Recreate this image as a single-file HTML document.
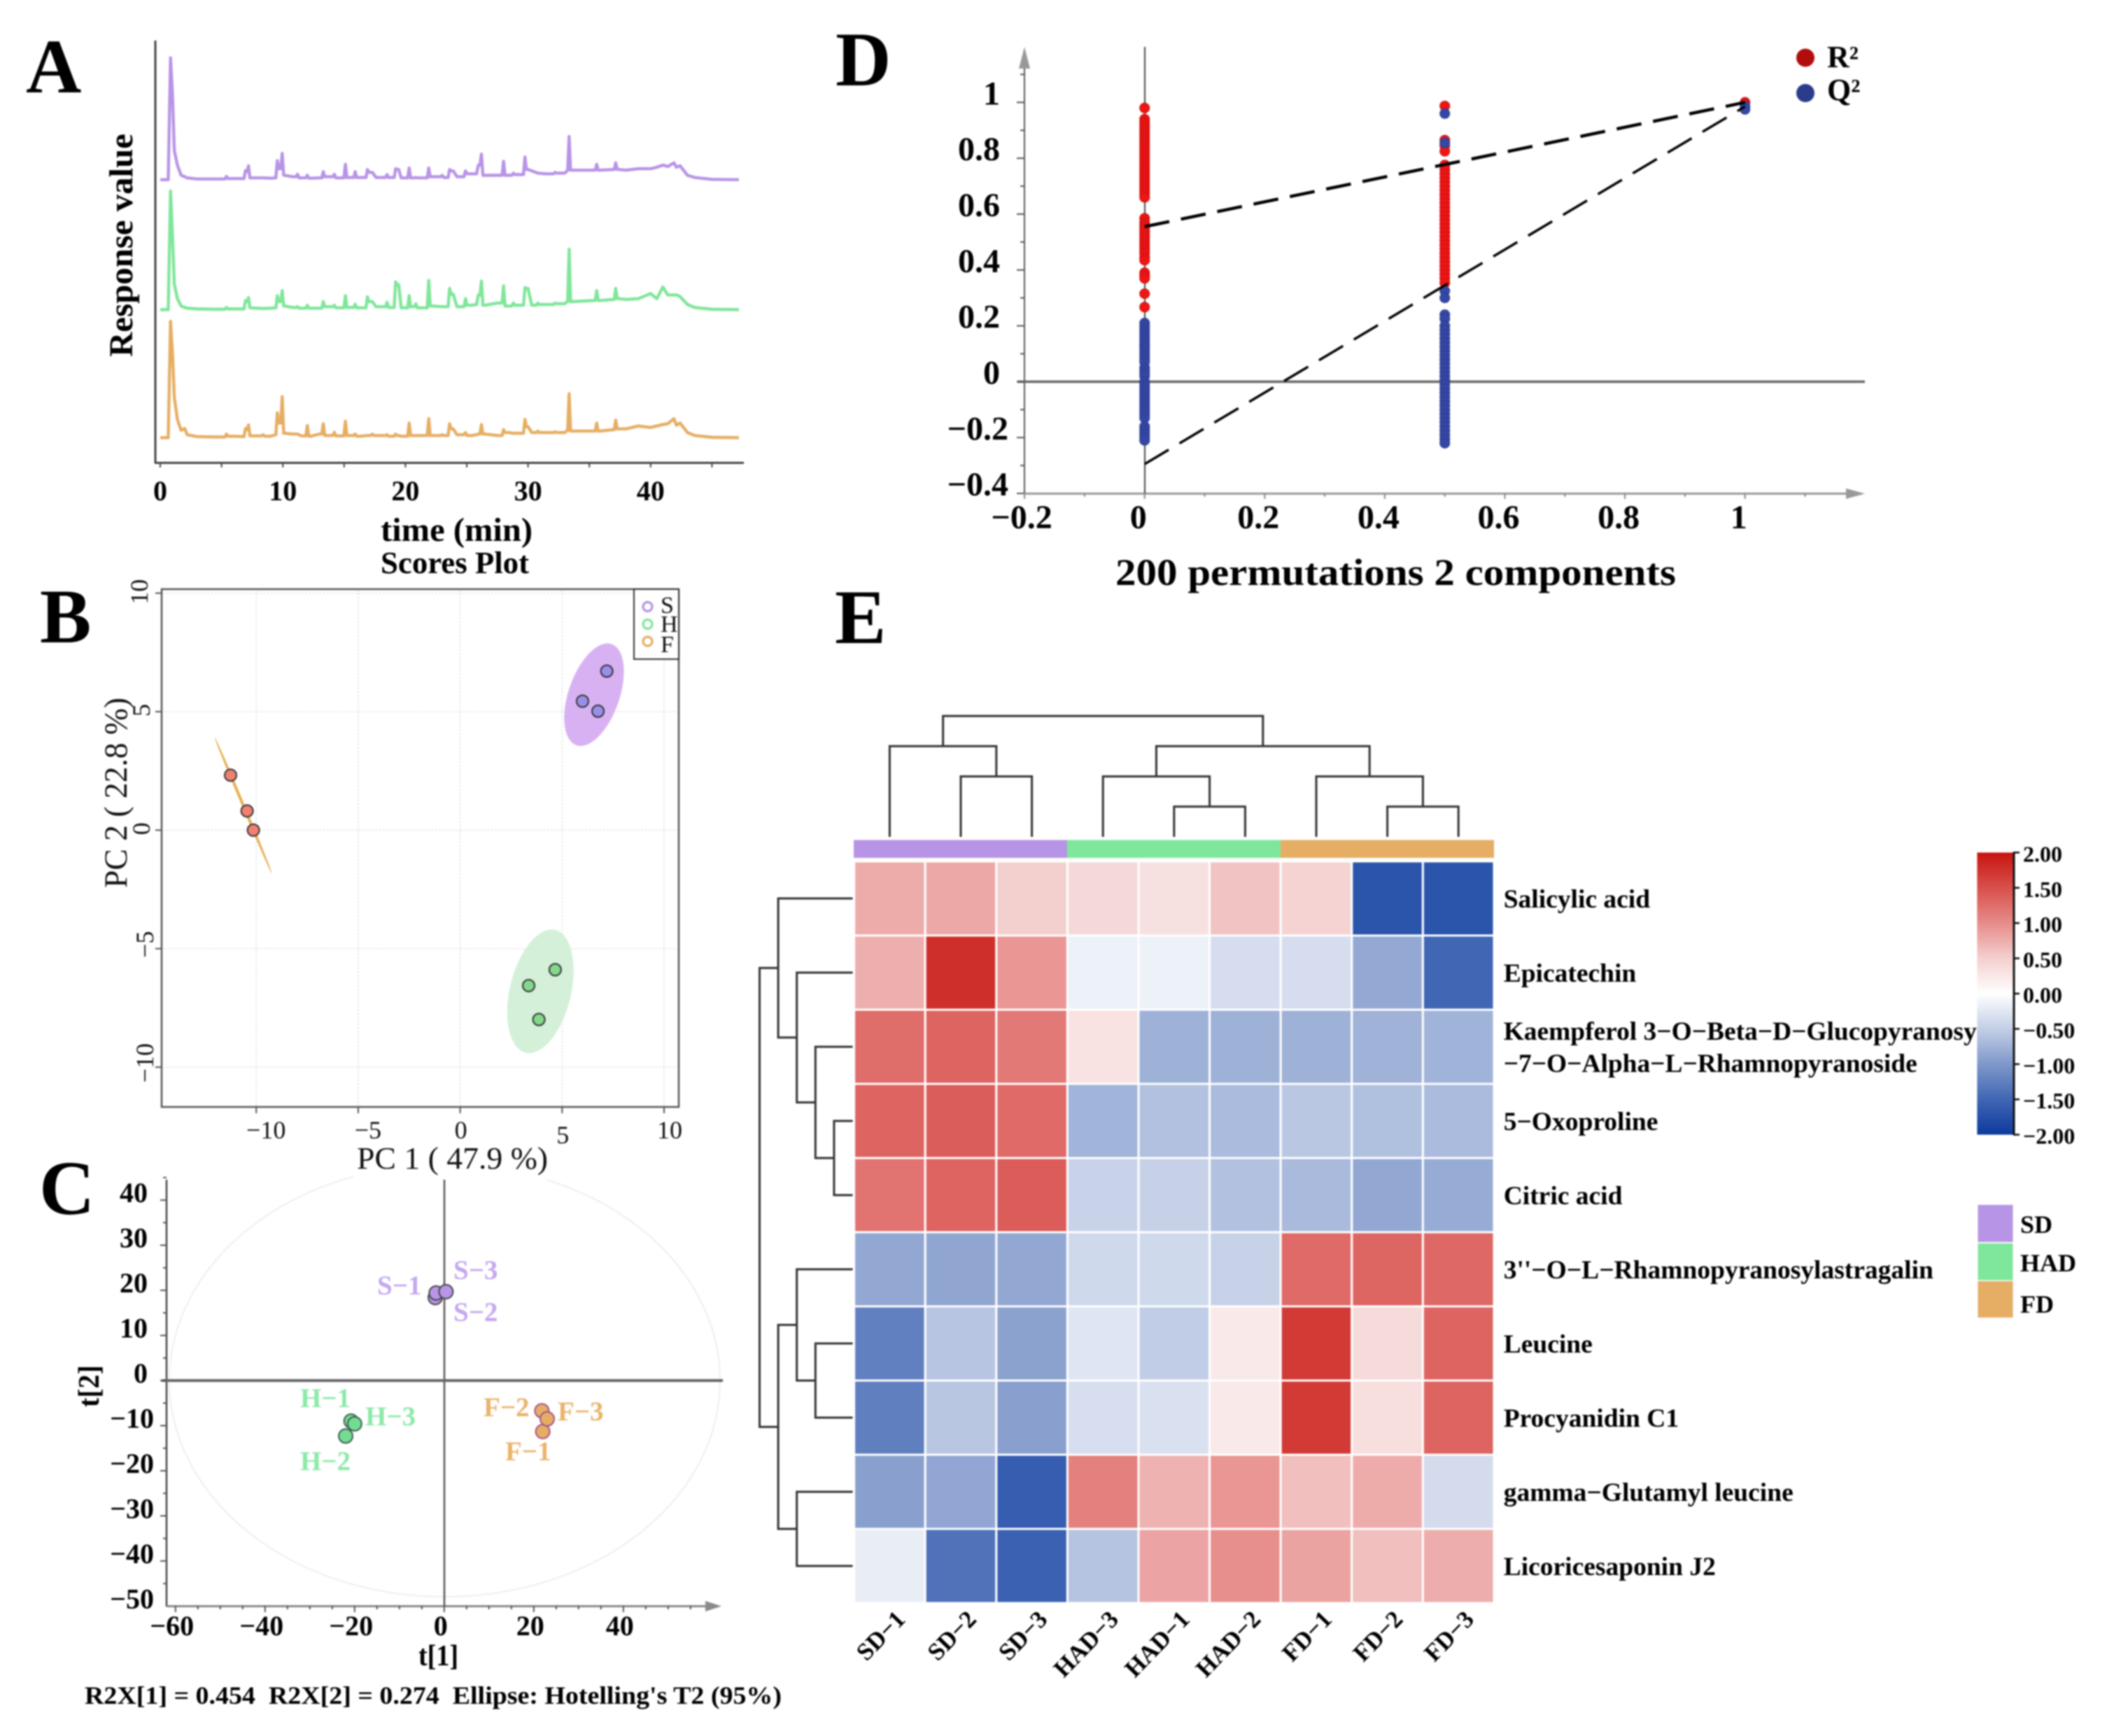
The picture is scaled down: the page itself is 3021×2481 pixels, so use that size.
<!DOCTYPE html>
<html lang="en">
<head>
<meta charset="utf-8">
<title>Metabolomics multi-panel figure</title>
<style>
html,body{margin:0;padding:0;background:#fff;width:3021px;height:2481px;overflow:hidden}
svg{display:block;filter:blur(1px)}
text{font-family:"Liberation Serif","DejaVu Serif",serif;fill:#000}
.b{font-weight:700}
.r{font-weight:400;fill:#111}
</style>
</head>
<body>
<svg id="figure" xmlns="http://www.w3.org/2000/svg" width="3021" height="2481" viewBox="0 0 3021 2481">
  <rect width="3021" height="2481" fill="#fff"/>

  <text class="b" x="37" y="132" font-size="110">A</text>
  <text class="b" x="57" y="918" font-size="110">B</text>
  <text class="b" x="56" y="1735" font-size="110">C</text>
  <text class="b" x="1194" y="122" font-size="110">D</text>
  <text class="b" x="1193" y="919" font-size="110">E</text>

  <g id="panelA">
    <line x1="222" y1="58" x2="222" y2="662" stroke="#444" stroke-width="3"/>
    <line x1="221" y1="661.5" x2="1063" y2="661.5" stroke="#444" stroke-width="3"/>
    <text class="b" transform="translate(189,510) rotate(-90)" font-size="48" textLength="319" lengthAdjust="spacingAndGlyphs">Response value</text>
    <text class="b" x="544" y="773" font-size="48" textLength="217" lengthAdjust="spacingAndGlyphs">time (min)</text>
  </g>

  <g id="panelC">
    <ellipse cx="635.5" cy="1973" rx="393.5" ry="309" fill="none" stroke="#eeeeee" stroke-width="2"/>
    <line x1="238" y1="1686" x2="238" y2="2296" stroke="#444" stroke-width="2.5"/>
    <line x1="238" y1="2295.5" x2="1012" y2="2295.5" stroke="#888" stroke-width="3"/>
    <polygon points="1008,2288 1031,2295.5 1008,2303" fill="#8a8a8a"/>
    <line x1="635" y1="1686" x2="635" y2="2295" stroke="#555" stroke-width="2.5"/>
    <line x1="231" y1="1973" x2="1033" y2="1973" stroke="#666" stroke-width="4"/>
    <text class="b" transform="translate(141,2011) rotate(-90)" font-size="42" textLength="60" lengthAdjust="spacingAndGlyphs">t[2]</text>
    <text class="b" x="598" y="2380" font-size="42" textLength="57" lengthAdjust="spacingAndGlyphs">t[1]</text>
    <text class="b" x="121" y="2435" font-size="36" textLength="996" lengthAdjust="spacingAndGlyphs" xml:space="preserve">R2X[1] = 0.454  R2X[2] = 0.274  Ellipse: Hotelling's T2 (95%)</text>
  </g>

  <g id="panelB">
    <text class="b" x="544" y="819" font-size="44" textLength="212" lengthAdjust="spacingAndGlyphs">Scores Plot</text>
    <rect x="231" y="842" width="739" height="740" fill="none" stroke="#555" stroke-width="2.5"/>
    <text class="r" transform="translate(181,1269) rotate(-90)" font-size="47" textLength="272" lengthAdjust="spacingAndGlyphs">PC 2 ( 22.8 %)</text>
    <rect x="505" y="1640" width="285" height="46" fill="#fff"/>
    <text class="r" x="510" y="1670" font-size="44" textLength="273" lengthAdjust="spacingAndGlyphs">PC 1 ( 47.9 %)</text>
  </g>

  <g id="panelD">
    <line x1="1464" y1="90" x2="1464" y2="706" stroke="#555" stroke-width="2"/>
    <polygon points="1456,98 1464,67 1472,98" fill="#999"/>
    <line x1="1464" y1="705.5" x2="2645" y2="705.5" stroke="#999" stroke-width="3"/>
    <polygon points="2638,698 2665,705.5 2638,713" fill="#999"/>
    <line x1="1636" y1="67" x2="1636" y2="705" stroke="#444" stroke-width="2"/>
    <line x1="1454" y1="545.5" x2="2665" y2="545.5" stroke="#666" stroke-width="3.5"/>
    <text class="b" x="1594" y="836" font-size="54" textLength="801" lengthAdjust="spacingAndGlyphs">200 permutations 2 components</text>
    <circle cx="2580" cy="82.5" r="13" fill="#b20d0d"/>
    <circle cx="2580" cy="133" r="13" fill="#2c3c8c"/>
    <text class="b" x="2611" y="96" font-size="44">R²</text>
    <text class="b" x="2611" y="143" font-size="44">Q²</text>
  </g>

  <g id="panelE">
    <rect x="1220" y="1200.5" width="305" height="25.5" fill="#b794e6"/>
    <rect x="1525" y="1200.5" width="305" height="25.5" fill="#7fe79b"/>
    <rect x="1830" y="1200.5" width="305" height="25.5" fill="#e6ae64"/>
    <rect x="2826.5" y="1722" width="50" height="53" fill="#b794e6"/>
    <rect x="2826.5" y="1777" width="50" height="52.5" fill="#7fe79b"/>
    <rect x="2826.5" y="1831" width="50" height="52" fill="#e6ae64"/>
    <text class="b" x="2887" y="1762" font-size="36">SD</text>
    <text class="b" x="2887" y="1817" font-size="36">HAD</text>
    <text class="b" x="2887" y="1876" font-size="36">FD</text>
  </g>

  <g id="panelCLabels" class="b" font-size="39">
    <text class="b" x="539" y="1850" style="fill:#c5a7ee">S−1</text>
    <text class="b" x="648" y="1828" style="fill:#c5a7ee">S−3</text>
    <text class="b" x="648" y="1888" style="fill:#c5a7ee">S−2</text>
    <text class="b" x="429" y="2011" style="fill:#8de9a8">H−1</text>
    <text class="b" x="522" y="2037" style="fill:#8de9a8">H−3</text>
    <text class="b" x="429" y="2101" style="fill:#8de9a8">H−2</text>
    <text class="b" x="691" y="2024" style="fill:#eab36b">F−2</text>
    <text class="b" x="797" y="2030" style="fill:#eab36b">F−3</text>
    <text class="b" x="722" y="2087" style="fill:#eab36b">F−1</text>
  </g>
</svg>

<script>
/* ---------- Panel A data: retention time (min) and response heights ---------- */
const timeMin = [0,0.65,0.84,1.0,1.15,1.4,1.7,2.0,2.2,3,4.5,5.4,5.9,6.8,6.95,7.1,7.2,7.4,8.4,9.0,9.4,9.55,9.7,9.95,10.15,10.8,11.2,11.5,12,12.3,13,13.3,13.6,14.2,14.5,15.1,15.35,15.9,16.3,16.9,17.3,17.6,18.5,18.8,19.2,19.45,19.65,20.3,20.6,20.85,21.3,21.9,22.2,23,23.4,23.6,23.9,24.2,24.9,25.4,25.8,25.95,26.2,26.5,27.5,28,28.4,28.8,29.2,29.75,30,30.3,30.8,31.5,32.2,33,33.2,33.35,33.6,35.4,35.6,35.85,37,37.15,37.4,38,39,40,40.5,41,41.4,41.9,42.1,42.4,43,43.6,45,47.2];
const purpleTrace = [0,0,333,230,80,40,12,8,5,2,2,9,3,3,25,22,38,5,5,4,5,52,30,72,12,8,15,5,12,4,5,22,8,15,5,42,6,22,6,28,20,6,14,6,30,28,5,32,5,6,5,32,8,12,6,28,24,8,24,16,16,40,70,12,12,50,12,18,14,62,28,24,18,16,20,18,25,118,26,26,42,26,28,46,28,26,30,30,34,40,36,46,34,38,12,6,1,0];
const greenTrace = [0,0,324,200,70,30,10,6,4,2,1,6,2,2,25,22,33,5,3,4,5,38,22,52,10,6,8,4,12,4,4,22,8,12,5,38,6,15,5,35,22,8,20,6,76,68,5,38,8,16,5,80,10,8,8,58,42,8,30,12,14,40,78,12,18,65,10,18,12,60,58,12,18,14,18,16,22,165,22,25,52,25,28,58,30,28,30,44,30,62,40,40,40,36,14,6,1,0];
const orangeTrace = [0,0,318,230,110,50,20,25,8,3,2,10,4,3,25,22,35,5,8,4,8,68,40,112,12,10,10,5,33,4,10,38,6,15,5,45,6,10,4,6,10,6,8,4,10,6,4,40,6,6,6,52,6,8,6,38,24,8,14,6,8,10,36,10,6,22,14,12,12,50,30,14,18,14,16,14,20,120,18,18,40,18,22,48,24,24,32,28,32,36,38,52,34,40,14,6,1,0];
const chromTickLabels = [0,10,20,30,40];
const chromMinorTicks = [0,5,10,15,20,25,30,35,40,45];

/* ---------- Panel B data ---------- */
const pc1Ticks = [-10,-5,0,5,10];
const pc2Ticks = [10,5,0,-5,-10];
const pcaGroupS1 = [7.19,6.0,6.76];
const pcaGroupS2 = [6.71,5.44,5.02];
const pcaGroupH1 = [4.66,3.36,3.86];
const pcaGroupH2 = [-5.89,-6.56,-7.99];
const pcaGroupF1 = [-11.26,-10.45,-10.14];
const pcaGroupF2 = [2.32,0.81,0.0];
const pcaEllipseS = [7.43,7.85,5.70,3.58,1.25];
const pcaEllipseH = [4.66,-4.21,3.21,-9.39,1.5];
const pcaEllipseF = [-12.03,3.90,-9.24,-1.82,0.07];
const pcaLegend = ['S','H','F'];

/* ---------- Panel C data ---------- */
const t1Ticks = [-60,-40,-20,0,20,40];
const t2Ticks = [40,30,20,10,0,-10,-20,-30,-40,-50];
const oplsS1 = [-2,-1.8,0.4];
const oplsS2 = [18.4,19.4,19.7];
const oplsH1 = [-22,-20.8,-20];
const oplsH2 = [-12.3,-9,-9.6];
const oplsF1 = [22,21.8,23];
const oplsF2 = [-11.3,-6.7,-8.5];

/* ---------- Panel D data ---------- */
const permXTicks = [-0.2,0,0.2,0.4,0.6,0.8,1];
const permYTicks = [1,0.8,0.6,0.4,0.2,0,-0.2,-0.4];
const r2AtZero = [.98,.94,.93,.92,.91,.90,.89,.88,.87,.86,.85,.84,.83,.82,.81,.80,.79,.78,.77,.76,.75,.74,.73,.72,.71,.70,.69,.68,.67,.66,.585,.57,.56,.55,.54,.53,.52,.51,.50,.49,.48,.47,.46,.445,.435,.39,.38,.37,.315,.267,.13];
const q2AtZero = [.21,.2,.19,.18,.17,.16,.15,.14,.13,.12,.11,.1,.09,.08,.07,.05,.04,.03,.02,0,-.01,-.02,-.03,-.04,-.05,-.06,-.07,-.08,-.09,-.1,-.11,-.12,-.13,-.16,-.17,-.18,-.19,-.2,-.21];
const r2AtHalf = [.987,.865,.845,.825,.776,.76,.745,.73,.715,.70,.685,.67,.655,.64,.625,.61,.595,.58,.565,.55,.535,.52,.505,.49,.475,.46,.445,.43,.415,.40,.385,.37,.354];
const q2AtHalf = [.96,.855,.325,.30,.24,.225,.2,.185,.17,.155,.14,.125,.11,.095,.08,.065,.05,.035,.02,.005,-.01,-.025,-.04,-.055,-.07,-.085,-.1,-.115,-.13,-.145,-.16,-.175,-.19,-.205,-.22];
const r2AtOne = [1.0];
const q2AtOne = [.985,.975];
const r2FitLine = [0,0.555,1,1.0];
const q2FitLine = [0,-0.295,1,0.985];

/* ---------- Panel E data ---------- */
const heatCols = ['SD−1','SD−2','SD−3','HAD−3','HAD−1','HAD−2','FD−1','FD−2','FD−3'];
const heatRows = ['Salicylic acid','Epicatechin',['Kaempferol 3−O−Beta−D−Glucopyranosy','−7−O−Alpha−L−Rhamnopyranoside'],'5−Oxoproline','Citric acid','3\'\'−O−L−Rhamnopyranosylastragalin','Leucine','Procyanidin C1','gamma−Glutamyl leucine','Licoricesaponin J2'];
const heatValues = [
 [.765,.794,.507,.405,.32,.596,.468,-1.7,-1.7],
 [.743,1.775,.926,-.15,-.15,-.35,-.35,-.85,-1.5],
 [1.26,1.33,1.16,.3,-.77,-.77,-.77,-.76,-.755],
 [1.33,1.39,1.28,-.75,-.63,-.68,-.57,-.64,-.68],
 [1.21,1.33,1.4,-.46,-.475,-.625,-.69,-.86,-.82],
 [-.86,-.875,-.86,-.4,-.4,-.47,1.28,1.32,1.3],
 [-1.24,-.59,-.91,-.27,-.515,.23,1.68,.38,1.33],
 [-1.25,-.58,-.93,-.34,-.32,.23,1.68,.34,1.33],
 [-.93,-.87,-1.6,1.09,.72,.93,.625,.765,-.37],
 [-.18,-1.38,-1.55,-.6,.82,.98,.83,.625,.757]
];
const colMerges = [[4,5,1],[7,8,1],[1,2,2],[3,9,2],[6,10,2],[0,11,3],[12,13,3],[14,15,4]];
const rowMerges = [[3,4,1],[6,7,2],[2,10,2],[1,12,3],[5,11,3],[8,9,3],[0,13,4],[14,15,4],[16,17,5]];
const colorbarTicks = [2,1.5,1,0.5,0,-0.5,-1,-1.5,-2];
const colorValues = [2,1.5,1,0.5,0,-0.5,-1,-1.5,-2];
const colorHexes = ['#c8140f','#d8504c','#e78c8a','#f3d0cf','#ffffff','#c3cfe7','#7f98ca','#4066b4','#0c3a9e'];

/* ---------- helpers ---------- */
const NS = 'http://www.w3.org/2000/svg';
const fmt = v => String(v).replace('-', '−');
function make(tag, attrs, parent, content) {
  const node = document.createElementNS(NS, tag);
  for (const k in attrs) node.setAttribute(k, attrs[k]);
  if (content !== undefined) node.textContent = content;
  parent.appendChild(node);
  return node;
}
function hexToRgb(h) { return [1,3,5].map(i => parseInt(h.substr(i,2),16)); }
function heatColor(v) {
  const c = Math.max(-2, Math.min(2, v));
  for (let i = 0; i < colorValues.length - 1; i++) {
    if (c <= colorValues[i] && c >= colorValues[i+1]) {
      const f = (colorValues[i] - c) / (colorValues[i] - colorValues[i+1]);
      const a = hexToRgb(colorHexes[i]), b = hexToRgb(colorHexes[i+1]);
      return 'rgb(' + a.map((x,j) => Math.round(x + (b[j]-x)*f)).join(',') + ')';
    }
  }
  return '#fff';
}
const panelA = document.getElementById('panelA');
const panelB = document.getElementById('panelB');
const panelC = document.getElementById('panelC');
const panelD = document.getElementById('panelD');
const panelE = document.getElementById('panelE');

/* ---------- Panel A ---------- */
const xA = t => 229 + 17.52 * t;
const yA = (v, base) => base - v / 1.912;
chromMinorTicks.forEach(t => {
  const tick = make('line', {x1:xA(t), x2:xA(t), y1:661, y2:668, stroke:'#444', 'stroke-width':2}, panelA);
  
  
});
chromTickLabels.forEach(t => {
  const label = make('text', {x:xA(t), y:715, 'font-size':40, 'text-anchor':'middle', class:'b'}, panelA, t);
  
  
});
function drawTrace(values, base, color) {
  const coords = [];
  const add = (t, v) => coords.push(xA(t).toFixed(1) + ',' + yA(v, base).toFixed(1));
  const skirt = 0.12;
  values.forEach((v, i) => {
    const t = timeMin[i];
    const isPeak = i > 0 && i < values.length - 1 && t >= 5 && t < 37.5 && v > values[i-1] && v > values[i+1];
    if (isPeak && t - skirt > timeMin[i-1]) add(t - skirt, values[i-1]);
    add(t, v);
    if (isPeak && t + skirt < timeMin[i+1]) add(t + skirt, values[i+1]);
  });
  return make('polyline', {points:coords.join(' '), fill:'none', stroke:color, 'stroke-width':4.4, 'stroke-linejoin':'round'}, panelA);
}
const traceS = drawTrace(purpleTrace, 256.8, '#b894e6');


const traceH = drawTrace(greenTrace, 442.5, '#7fe69a');


const traceF = drawTrace(orangeTrace, 625.5, '#e6ae64');



/* ---------- Panel B ---------- */
const xB = v => 657.6 + 29.14 * v;
const yB = v => 1186.4 - 33.87 * v;
pc1Ticks.forEach(v => {
  const grid = make('line', {x1:xB(v), x2:xB(v), y1:843, y2:1581, stroke:'#d8d8d8', 'stroke-width':1.5, 'stroke-dasharray':'2 3'}, panelB);
  
  
  const tick = make('line', {x1:xB(v), x2:xB(v), y1:1582, y2:1591, stroke:'#555', 'stroke-width':2}, panelB);
  
  
  const shift = v === 5 ? 7 : 0;
  const label = make('text', {x:xB(v) + (v < 0 ? 14 : (v === 10 ? 8 : 1)), y:1627 + shift, 'font-size':36, 'text-anchor':'middle', class:'r'}, panelB, fmt(v));
  
  
});
pc2Ticks.forEach(v => {
  const grid = make('line', {x1:232, x2:969, y1:yB(v), y2:yB(v), stroke:'#d8d8d8', 'stroke-width':1.5, 'stroke-dasharray':'2 3'}, panelB);
  
  
  const tick = make('line', {x1:222, x2:231, y1:yB(v), y2:yB(v), stroke:'#555', 'stroke-width':2}, panelB);
  
  
  const bx = v === 10 ? 211 : (v < 0 ? 219 : 214);
  const label = make('text', {transform:'translate(' + bx + ',' + (yB(v) + (v < 0 ? -6 : -2)) + ') rotate(-90)', 'font-size':36, 'text-anchor':'middle', class:'r'}, panelB, fmt(v));
  
  
});
function drawPcaEllipse(p, color, opacity) {
  const x1 = xB(p[0]), y1 = yB(p[1]), x2 = xB(p[2]), y2 = yB(p[3]);
  const a = Math.hypot(x2 - x1, y2 - y1) / 2;
  const ang = Math.atan2(y2 - y1, x2 - x1) * 180 / Math.PI;
  const cx = (x1 + x2) / 2, cy = (y1 + y2) / 2;
  return make('ellipse', {cx:cx, cy:cy, rx:a, ry:p[4] * 29.14, transform:'rotate(' + ang + ' ' + cx + ' ' + cy + ')', fill:color, 'fill-opacity':opacity}, panelB);
}
const ellS = drawPcaEllipse(pcaEllipseS, '#d8b1f2', 1);


const ellH = drawPcaEllipse(pcaEllipseH, '#d4f0d8', 1);


const ellF = drawPcaEllipse(pcaEllipseF, '#e6ae50', 1);


function drawPcaPoints(xs, ys, fill, name) {
  xs.forEach((v, i) => {
    const dot = make('circle', {cx:xB(v), cy:yB(ys[i]), r:8.5, fill:fill, stroke:'#333', 'stroke-width':2}, panelB);
    
    
    dot.setAttribute('data-group', name);
  });
}
drawPcaPoints(pcaGroupS1, pcaGroupS2, '#9a8eea', 's');
drawPcaPoints(pcaGroupH1, pcaGroupH2, '#84d88c', 'h');
drawPcaPoints(pcaGroupF1, pcaGroupF2, '#f08070', 'f');
const legendBox = make('rect', {x:906, y:842, width:64, height:100, fill:'#fff', stroke:'#333', 'stroke-width':2}, panelB);


const legendColors = ['#b894e6', '#7fe69a', '#e6ae64'];
const legendDotY = [867, 892, 916.6];
const legendTextY = [876, 903, 932];
pcaLegend.forEach((s, i) => {
  const ring = make('circle', {cx:925.5, cy:legendDotY[i], r:6.5, fill:'none', stroke:legendColors[i], 'stroke-width':3.2}, panelB);
  
  
  const text = make('text', {x:944, y:legendTextY[i], 'font-size':34, class:'r'}, panelB, s);
  
  
});

/* ---------- Panel C ---------- */
const xC = v => 634.8 + 6.4 * v;
const yC = v => 1973 - 6.447 * v;
for (let v = -60; v <= 55; v += 5) {
  const major = v % 20 === 0;
  const tick = make('line', {x1:xC(v), x2:xC(v), y1:2295, y2:2295 + (major ? 9 : 5), stroke:'#555', 'stroke-width':2}, panelC);
  
  
}
for (let v = -45; v <= 45; v += 5) {
  const major = v % 10 === 0;
  const tick = make('line', {x1:major ? 229 : 233, x2:238, y1:yC(v), y2:yC(v), stroke:'#555', 'stroke-width':2}, panelC);
  
  
}
t1Ticks.forEach(v => {
  const label = make('text', {x:xC(v) - 5, y:2337, 'font-size':40, 'text-anchor':'middle', class:'b'}, panelC, fmt(v));
  
  
});
t2Ticks.forEach(v => {
  const label = make('text', {x:v < 0 ? 220 : 211, y:yC(v) + 3, 'font-size':40, 'text-anchor':'end', class:'b'}, panelC, fmt(v));
  
  
});
function drawOplsPoints(xs, ys, fill, stroke, name) {
  xs.forEach((v, i) => {
    const dot = make('circle', {cx:xC(v), cy:yC(ys[i]), r:10, fill:fill, stroke:stroke, 'stroke-width':2}, panelC);
    
    
    dot.setAttribute('data-group', name);
  });
}
drawOplsPoints(oplsS1, oplsS2, '#b895e8', '#444', 's');
drawOplsPoints(oplsH1, oplsH2, '#74dc92', '#3c5a50', 'h');
drawOplsPoints(oplsF1, oplsF2, '#e6ae64', '#a0508a', 'f');

/* ---------- Panel D ---------- */
const xD = v => 1635.7 + 858 * v;
const yD = v => 545.5 - 399.2 * v;
for (let i = -4; i <= 11; i++) {
  const v = i / 10;
  const major = i % 2 === 0;
  const tick = make('line', {x1:major ? 1453 : 1458, x2:1464, y1:yD(v), y2:yD(v), stroke:'#555', 'stroke-width':2}, panelD);
  
  
}
for (let i = -2; i <= 11; i++) {
  const v = i / 10;
  const tick = make('line', {x1:xD(v), x2:xD(v), y1:705, y2:i % 2 === 0 ? 713 : 710, stroke:'#888', 'stroke-width':2}, panelD);
  
  
}
permYTicks.forEach(v => {
  const label = make('text', {x:v < 0 ? 1441 : 1429, y:yD(v) + 3, 'font-size':48, 'text-anchor':'end', class:'b'}, panelD, fmt(v));
  
  
});
permXTicks.forEach(v => {
  const label = make('text', {x:xD(v) - (v < 0 ? 4 : 9), y:755, 'font-size':48, 'text-anchor':'middle', class:'b'}, panelD, fmt(v));
  
  
});
function drawPerm(xValue, values, fill, stroke, name) {
  values.forEach(v => {
    const dot = make('circle', {cx:xD(xValue), cy:yD(v), r:7, fill:fill, stroke:stroke, 'stroke-width':1}, panelD);
    
    
    dot.setAttribute('data-series', name);
  });
}
drawPerm(0, r2AtZero, '#ee1515', '#c80f0f', 'r2');
drawPerm(0.5, r2AtHalf, '#ee1515', '#c80f0f', 'r2');
drawPerm(1, r2AtOne, '#d81515', '#b80f0f', 'r2');
drawPerm(0, q2AtZero, '#3447a4', '#2c3c90', 'q2');
drawPerm(0.5, q2AtHalf, '#3447a4', '#2c3c90', 'q2');
drawPerm(1, q2AtOne, '#3447a4', '#2c3c90', 'q2');
const r2Fit = make('line', {x1:xD(r2FitLine[0]), y1:yD(r2FitLine[1]), x2:xD(r2FitLine[2]), y2:yD(r2FitLine[3]), stroke:'#000', 'stroke-width':4.5, 'stroke-dasharray':'36 17'}, panelD);


const q2Fit = make('line', {x1:xD(q2FitLine[0]), y1:yD(q2FitLine[1]), x2:xD(q2FitLine[2]), y2:yD(q2FitLine[3]), stroke:'#000', 'stroke-width':3.5, 'stroke-dasharray':'40 18'}, panelD);



/* ---------- Panel E ---------- */
const cellW = 101.6, cellH = 106;
const xE = i => 1220.6 + cellW * i;
const yE = i => 1231 + cellH * i;
heatValues.forEach((row, r) => {
  row.forEach((v, c) => {
    const cell = make('rect', {x:xE(c), y:yE(r), width:cellW, height:cellH, fill:heatColor(v), stroke:'#fff', 'stroke-width':3}, panelE);
    
    
  });
});
heatCols.forEach((s, c) => {
  const ex = xE(c) + cellW / 2 + 24;
  const label = make('text', {transform:'translate(' + ex + ',2316) rotate(-46)', 'font-size':35, 'text-anchor':'end', class:'b'}, panelE, s);
  
  
});
heatRows.forEach((s, r) => {
  const cy = yE(r) + cellH / 2;
  if (Array.isArray(s)) {
    const first = make('text', {x:2148.7, y:cy - 10, 'font-size':37.5, class:'b', textLength:676, lengthAdjust:'spacingAndGlyphs'}, panelE, s[0]);
    
    
    const second = make('text', {x:2148.7, y:cy + 36, 'font-size':37.5, class:'b', textLength:591, lengthAdjust:'spacingAndGlyphs'}, panelE, s[1]);
    
    
  } else {
    const label = make('text', {x:2148.7, y:cy + 13, 'font-size':37.5, class:'b'}, panelE, s);
    
    
  }
});
function drawColTree() {
  const pos = heatCols.map((_, i) => ({p:xE(i) + cellW / 2, h:0}));
  const yLevel = h => 1196 - 43.2 * h;
  colMerges.forEach(m => {
    const a = pos[m[0]], b = pos[m[1]], h = m[2];
    const link = make('path', {d:'M' + a.p + ' ' + yLevel(a.h) + 'V' + yLevel(h) + 'H' + b.p + 'V' + yLevel(b.h), fill:'none', stroke:'#333', 'stroke-width':3}, panelE);
    
    
    pos.push({p:(a.p + b.p) / 2, h:h});
  });
}
function drawRowTree() {
  const pos = heatRows.map((_, i) => ({p:yE(i) + cellH / 2, h:0}));
  const xLevel = h => 1218.5 - 26.6 * h;
  rowMerges.forEach(m => {
    const a = pos[m[0]], b = pos[m[1]], h = m[2];
    const link = make('path', {d:'M' + xLevel(a.h) + ' ' + a.p + 'H' + xLevel(h) + 'V' + b.p + 'H' + xLevel(b.h), fill:'none', stroke:'#333', 'stroke-width':3}, panelE);
    
    
    pos.push({p:(a.p + b.p) / 2, h:h});
  });
}
drawColTree();
drawRowTree();

/* colour bar */
const defs = make('defs', {}, panelE);
const grad = make('linearGradient', {id:'colorbarGradient', x1:0, y1:0, x2:0, y2:1}, defs);
colorValues.forEach((v, i) => {
  make('stop', {offset:(i / (colorValues.length - 1)), 'stop-color':colorHexes[i]}, grad);
});
const yBar = v => 1420 - 100.8 * v;
const bar = make('rect', {x:2825.4, y:yBar(2), width:51.6, height:yBar(-2) - yBar(2), fill:'url(#colorbarGradient)'}, panelE);


const barAxis = make('line', {x1:2878, x2:2878, y1:yBar(2) - 1, y2:yBar(-2) + 1, stroke:'#111', 'stroke-width':3}, panelE);


colorbarTicks.forEach(v => {
  const tick = make('line', {x1:2878, x2:2886, y1:yBar(v), y2:yBar(v), stroke:'#111', 'stroke-width':2.5}, panelE);
  
  
  const label = make('text', {x:2891, y:yBar(v) + 13, 'font-size':32, class:'b'}, panelE, fmt(v.toFixed(2)));
  
  
});
</script>
</body>
</html>
